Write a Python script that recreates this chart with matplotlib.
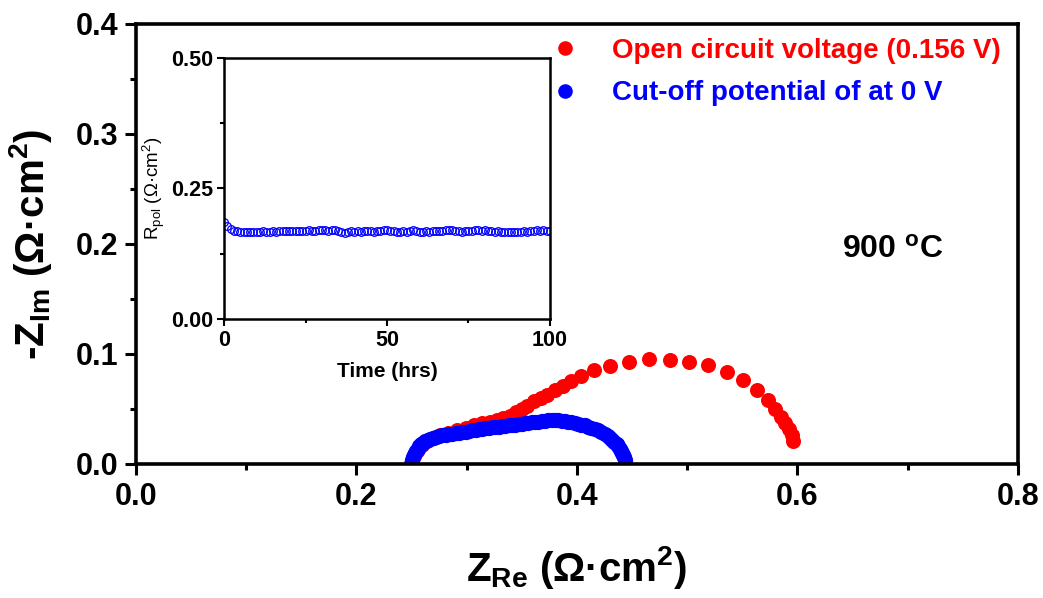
import matplotlib
matplotlib.use("Agg")
import matplotlib.pyplot as plt
from matplotlib.ticker import MultipleLocator
from matplotlib.lines import Line2D

plt.rcParams['font.family'] = ['Liberation Sans', 'DejaVu Sans']
plt.rcParams['mathtext.fontset'] = 'custom'
plt.rcParams['mathtext.bf'] = 'Liberation Sans:bold'
plt.rcParams['mathtext.rm'] = 'Liberation Sans'
plt.rcParams['mathtext.it'] = 'Liberation Sans:italic'

# ---- data ----
ocv_zre = [0.250, 0.252, 0.255, 0.259, 0.264, 0.270, 0.276, 0.283, 0.291, 0.299,
           0.307, 0.314, 0.321, 0.327, 0.333, 0.339, 0.345, 0.350, 0.355, 0.361,
           0.367, 0.373, 0.380, 0.387, 0.395, 0.404, 0.415, 0.430, 0.447, 0.465,
           0.484, 0.502, 0.519, 0.536, 0.551, 0.563, 0.573, 0.580, 0.585, 0.589,
           0.592, 0.595, 0.596]
ocv_zim = [0.002, 0.007, 0.012, 0.017, 0.021, 0.024, 0.026, 0.028, 0.031, 0.033,
           0.035, 0.037, 0.038, 0.040, 0.042, 0.044, 0.047, 0.050, 0.053, 0.057,
           0.060, 0.063, 0.067, 0.071, 0.075, 0.080, 0.085, 0.089, 0.093, 0.095,
           0.0945, 0.093, 0.090, 0.084, 0.076, 0.067, 0.058, 0.050, 0.043, 0.037,
           0.032, 0.026, 0.021]

cut_zre = [0.2495, 0.2500, 0.2505, 0.2512, 0.2520, 0.2530, 0.2542, 0.2555, 0.2570, 0.2587,
           0.2605, 0.2625, 0.2647, 0.2670, 0.2695, 0.272, 0.275, 0.278, 0.281, 0.284,
           0.287, 0.290, 0.293, 0.296, 0.299, 0.302, 0.305, 0.308, 0.311, 0.314,
           0.317, 0.320, 0.323, 0.326, 0.329, 0.332, 0.335, 0.338, 0.341, 0.344,
           0.347, 0.350, 0.353, 0.356, 0.359, 0.362, 0.365, 0.368, 0.371, 0.374,
           0.377, 0.380, 0.383, 0.386, 0.389, 0.392, 0.395, 0.398, 0.401, 0.404,
           0.407, 0.410, 0.413, 0.416, 0.419, 0.422, 0.425, 0.428, 0.430, 0.432,
           0.434, 0.436, 0.4375, 0.439, 0.440, 0.441, 0.442, 0.4427, 0.4432, 0.4436,
           0.444]
cut_zim = [0.000, 0.002, 0.004, 0.006, 0.008, 0.010, 0.012, 0.014, 0.016, 0.018,
           0.0195, 0.0205, 0.0215, 0.0225, 0.0235, 0.0245, 0.0255, 0.026, 0.0265, 0.027,
           0.0275, 0.028, 0.0285, 0.029, 0.0295, 0.030, 0.0305, 0.031, 0.0315, 0.032,
           0.0325, 0.033, 0.0333, 0.0336, 0.034, 0.0343, 0.0346, 0.035, 0.0354, 0.0358,
           0.0362, 0.0366, 0.037, 0.0374, 0.0378, 0.0382, 0.0386, 0.039, 0.0394, 0.0397,
           0.0398, 0.0398, 0.0396, 0.0393, 0.039, 0.0385, 0.038, 0.0373, 0.0366, 0.0358,
           0.035, 0.034, 0.033, 0.0318, 0.0305, 0.029, 0.0275, 0.0258, 0.024, 0.022,
           0.020, 0.018, 0.016, 0.014, 0.012, 0.010, 0.008, 0.006, 0.004, 0.002,
           0.000]

time_hrs = list(range(0, 101))
rpol = [0.186, 0.178, 0.172, 0.169, 0.168, 0.167, 0.167, 0.166, 0.167, 0.167,
        0.166, 0.167, 0.168, 0.166, 0.167, 0.168, 0.167, 0.168, 0.169, 0.168,
        0.168, 0.169, 0.168, 0.169, 0.168, 0.169, 0.170, 0.169, 0.168, 0.170,
        0.171, 0.170, 0.169, 0.170, 0.171, 0.169, 0.167, 0.165, 0.167, 0.168,
        0.167, 0.168, 0.167, 0.168, 0.169, 0.168, 0.167, 0.168, 0.169, 0.170,
        0.171, 0.169, 0.168, 0.167, 0.166, 0.168, 0.167, 0.169, 0.170, 0.168,
        0.166, 0.167, 0.168, 0.167, 0.168, 0.169, 0.168, 0.169, 0.170, 0.171,
        0.170, 0.169, 0.168, 0.167, 0.168, 0.169, 0.168, 0.170, 0.171, 0.169,
        0.170, 0.169, 0.168, 0.167, 0.168, 0.167, 0.166, 0.167, 0.166, 0.167,
        0.166, 0.167, 0.168, 0.167, 0.168, 0.169, 0.170, 0.169, 0.170, 0.169,
        0.169]

labels = ['Open circuit voltage (0.156 V)', 'Cut-off potential of at 0 V']
colors = ['#ff0000', '#0000ff']

# ---- figure ----
fig = plt.figure(figsize=(10.43, 5.98), dpi=100)
ax = fig.add_axes([0.1304, 0.2241, 0.8456, 0.7358])

ax.plot(ocv_zre, ocv_zim, 'o', color=colors[0], ms=10.8, mec='none', ls='none')
ax.plot(cut_zre, cut_zim, 'o', color=colors[1], ms=11, mec='none', ls='none')

ax.set_xlim(0, 0.8)
ax.set_ylim(0, 0.4)
ax.xaxis.set_major_locator(MultipleLocator(0.2))
ax.xaxis.set_minor_locator(MultipleLocator(0.1))
ax.yaxis.set_major_locator(MultipleLocator(0.1))
ax.yaxis.set_minor_locator(MultipleLocator(0.05))
ax.xaxis.set_major_formatter(plt.FormatStrFormatter('%.1f'))
ax.yaxis.set_major_formatter(plt.FormatStrFormatter('%.1f'))
ax.tick_params(which='both', direction='out', top=False, right=False, width=2.2)
ax.tick_params(which='major', length=8, labelsize=22, pad=5)
ax.tick_params(which='minor', length=4)
for lab in ax.get_xticklabels() + ax.get_yticklabels():
    lab.set_fontweight('bold')
for s in ax.spines.values():
    s.set_linewidth(2.6)

ax.set_xlabel(r'Z$_{\mathbf{Re}}$ (Ω·cm$^{\mathbf{2}}$)', fontsize=29,
              fontweight='bold', labelpad=23)
ax.set_ylabel(r'-Z$_{\mathbf{Im}}$ (Ω·cm$^{\mathbf{2}}$)', fontsize=29,
              fontweight='bold', labelpad=15)

ax.text(0.640, 0.195, r'900 $^{\mathbf{o}}$C', fontsize=23, fontweight='bold',
        ha='left', va='center')

handles = [Line2D([], [], marker='o', ls='none', color=c, mec='none', ms=10.5)
           for c in colors]
leg = ax.legend(handles, labels, loc='upper left',
                bbox_to_anchor=(0.528, 0.937), bbox_transform=fig.transFigure,
                frameon=False, handlelength=1.0,
                handletextpad=1.2, labelspacing=0.6, borderpad=0,
                borderaxespad=0, prop={'weight': 'bold', 'size': 20})
for t, c in zip(leg.get_texts(), colors):
    t.set_color(c)

# ---- inset ----
ins = fig.add_axes([0.2148, 0.4666, 0.3125, 0.4365])
ins.plot(time_hrs, rpol, 'o', mfc='none', mec=colors[1], ms=5.5, mew=0.9, ls='none')
ins.set_xlim(0, 100)
ins.set_ylim(0, 0.5)
ins.xaxis.set_major_locator(MultipleLocator(50))
ins.xaxis.set_minor_locator(MultipleLocator(25))
ins.yaxis.set_major_locator(MultipleLocator(0.25))
ins.yaxis.set_minor_locator(MultipleLocator(0.125))
ins.yaxis.set_major_formatter(plt.FormatStrFormatter('%.2f'))
ins.tick_params(which='both', direction='out', top=False, right=False, width=1.5)
ins.tick_params(which='major', length=5, labelsize=15.5, pad=3)
ins.tick_params(which='minor', length=3)
for lab in ins.get_xticklabels() + ins.get_yticklabels():
    lab.set_fontweight('bold')
for s in ins.spines.values():
    s.set_linewidth(1.8)
ins.set_xlabel('Time (hrs)', fontsize=15, fontweight='bold', labelpad=8)
ins.set_ylabel(r'R$_{\mathrm{pol}}$ (Ω·cm$^{2}$)', fontsize=13.5, labelpad=3)

fig.savefig('out.png', dpi=100)
